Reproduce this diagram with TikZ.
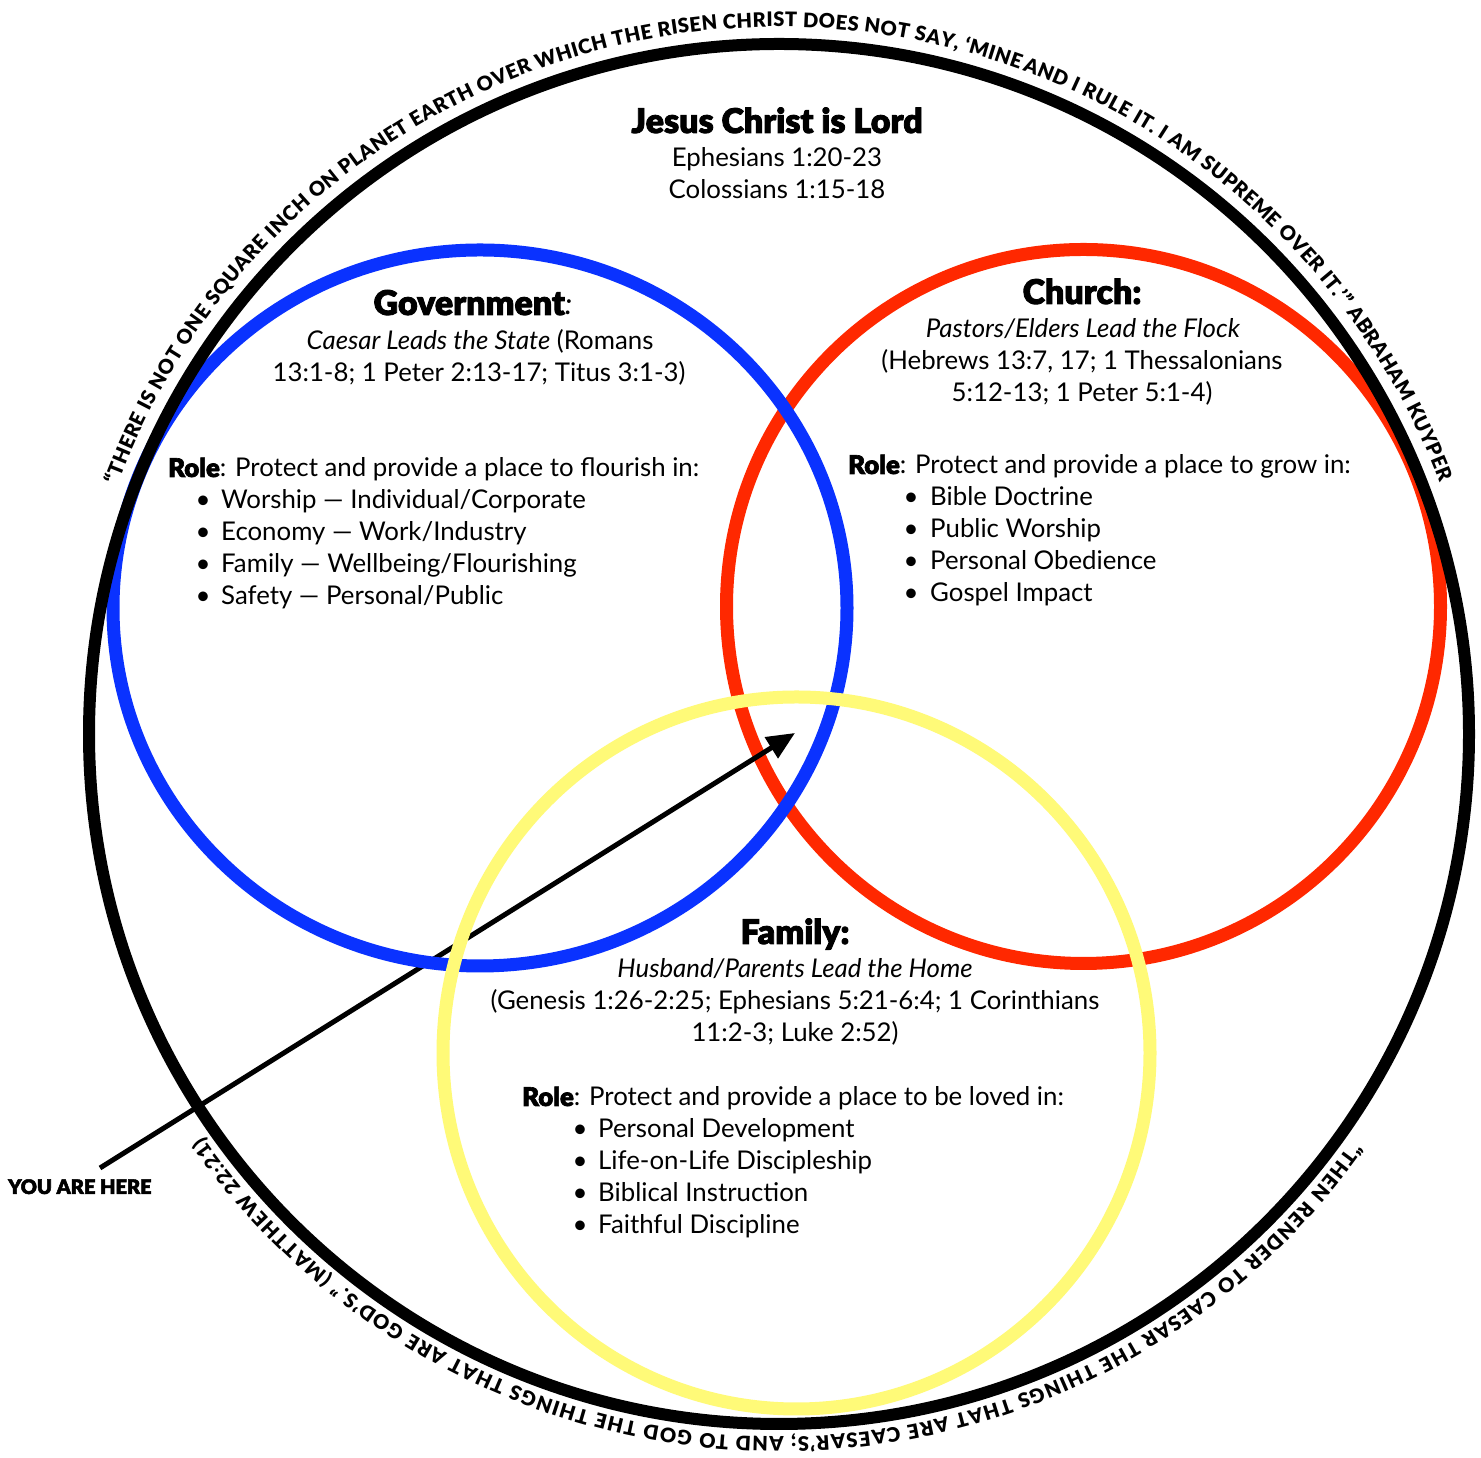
\documentclass[tikz,border=0pt]{standalone}
\usepackage{fontspec}
\setmainfont{Lato}
\newfontfamily\heavy{Lato Black}[BoldFont=Lato Black, BoldFeatures={FakeBold=2.5}]
\usetikzlibrary{arrows.meta,decorations.text}
\definecolor{gblue}{RGB}{10,50,255}
\definecolor{cred}{RGB}{255,40,0}
\definecolor{fyellow}{RGB}{255,250,120}
\newcommand\arcfont{\fontsize{20}{20}\selectfont\heavy}
\newcommand\bodyfont{\fontsize{25.8}{32}\selectfont}
\newcommand\hv{\heavy\bfseries}
\begin{document}
\begin{tikzpicture}[x=1pt,y=1pt,
  ring/.style={line width=13pt},
  txt/.style={inner sep=0pt, anchor=base, font=\bodyfont},
  txtl/.style={inner sep=0pt, anchor=base west, font=\bodyfont},
  head/.style={inner sep=0pt, anchor=base, font=\hv\fontsize{34}{34}\selectfont},
  pointer/.style={line width=5pt, -{Triangle[length=28pt,width=24pt]}}]
\fill[white] (0,0) rectangle (1481,1458);
\useasboundingbox (0,0) rectangle (1481,1458);

% circles
\draw[ring, cred] (1083.5,851.5) circle[radius=357];
\coordinate (start) at (100,290);
\coordinate (here) at (795,725);
\draw[pointer] (start) -- (here);
\draw[ring, gblue] (480,850) ellipse[x radius=367, y radius=358];
\draw[ring, fyellow] (796.5,405) ellipse[x radius=353.5, y radius=356];
\draw[line width=12pt, black] (779,724) circle[radius=690];

% text around the circle
\path[decorate, decoration={text along path, text align={fit to path},
  text={|\arcfont|“THERE IS NOT ONE SQUARE INCH ON PLANET EARTH OVER WHICH THE RISEN CHRIST DOES NOT SAY, ‘MINE AND I RULE IT. I AM SUPREME OVER IT.’” ABRAHAM KUYPER}}]
  (779,724) ++(159.4:707) arc[start angle=159.4, end angle=20.9, radius=707];
\path[decorate, decoration={text along path, text align={fit to path},
  text={|\arcfont|“THEN RENDER TO CAESAR THE THINGS THAT ARE CAESAR’S; AND TO GOD THE THINGS THAT ARE GOD’S.” (MATTHEW 22:21)}}]
  (779,724) ++(-35.4:703) arc[start angle=-35.4, end angle=-145, radius=703];

% title
\node[head] (title) at (777,1325) {Jesus Christ is Lord};
\node[txt] (eph) at (777,1291) {Ephesians 1:20-23};
\node[txt] (col) at (777,1259) {Colossians 1:15-18};

% government
\node[head] (govh) at (473,1143) {Government{\normalfont\itshape\fontsize{30}{30}\selectfont:}};
\node[txt] (gov1) at (480,1108) {\textit{Caesar Leads the State} (Romans};
\node[txt] (gov2) at (479,1076) {13:1-8; 1 Peter 2:13-17; Titus 3:1-3)};
\node[txtl] (govrole) at (168,981) {{\hv Role}: Protect and provide a place to flourish in:};
\node[txt] (gb1) at (203,949) {•};
\node[txtl] (gi1) at (221,949) {Worship — Individual/Corporate};
\node[txt] (gb2) at (203,917) {•};
\node[txtl] (gi2) at (221,917) {Economy — Work/Industry};
\node[txt] (gb3) at (203,885) {•};
\node[txtl] (gi3) at (221,885) {Family — Wellbeing/Flourishing};
\node[txt] (gb4) at (203,853) {•};
\node[txtl] (gi4) at (221,853) {Safety — Personal/Public};

% church
\node[head] (chh) at (1082,1154) {Church:};
\node[txt] (ch1) at (1083,1120) {\textit{Pastors/Elders Lead the Flock}};
\node[txt] (ch2) at (1082,1088) {(Hebrews 13:7, 17; 1 Thessalonians};
\node[txt] (ch3) at (1082,1056) {5:12-13; 1 Peter 5:1-4)};
\node[txtl] (chrole) at (848,984) {{\hv Role}: Protect and provide a place to grow in:};
\node[txt] (cb1) at (911,952) {•};
\node[txtl] (ci1) at (930,952) {Bible Doctrine};
\node[txt] (cb2) at (911,920) {•};
\node[txtl] (ci2) at (930,920) {Public Worship};
\node[txt] (cb3) at (911,888) {•};
\node[txtl] (ci3) at (930,888) {Personal Obedience};
\node[txt] (cb4) at (911,856) {•};
\node[txtl] (ci4) at (930,856) {Gospel Impact};

% family
\node[head] (famh) at (795,514) {Family:};
\node[txt] (fa1) at (795,480) {\textit{Husband/Parents Lead the Home}};
\node[txt] (fa2) at (795,448) {(Genesis 1:26-2:25; Ephesians 5:21-6:4; 1 Corinthians};
\node[txt] (fa3) at (795,416) {11:2-3; Luke 2:52)};
\node[txtl] (farole) at (522,352) {{\hv Role}: Protect and provide a place to be loved in:};
\node[txt] (fb1) at (580,320) {•};
\node[txtl] (fi1) at (598,320) {Personal Development};
\node[txt] (fb2) at (580,288) {•};
\node[txtl] (fi2) at (598,288) {Life-on-Life Discipleship};
\node[txt] (fb3) at (580,256) {•};
\node[txtl] (fi3) at (598,256) {Biblical Instruction};
\node[txt] (fb4) at (580,224) {•};
\node[txtl] (fi4) at (598,224) {Faithful Discipline};

% you are here
\node[inner sep=0pt, anchor=base west, font=\hv\fontsize{20}{20}\selectfont] (you) at (8,264) {YOU ARE HERE};
\end{tikzpicture}
\end{document}
